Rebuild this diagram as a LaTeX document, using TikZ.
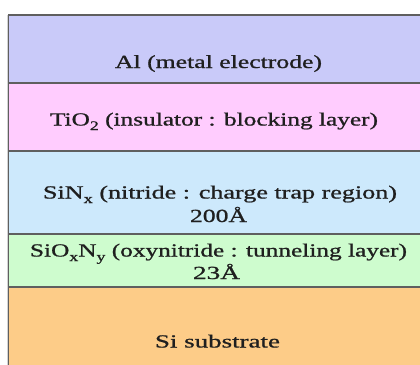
\documentclass[tikz,border=0pt]{standalone}
\usepackage{fontspec}
\setmainfont{Liberation Serif}
\newfontfamily\lblfont[FakeBold=0.8]{Liberation Serif}
\definecolor{alc}{RGB}{201,202,249}
\definecolor{tic}{RGB}{255,204,254}
\definecolor{sinc}{RGB}{205,233,252}
\definecolor{sionc}{RGB}{206,252,206}
\definecolor{sic}{RGB}{253,204,136}
\definecolor{edgec}{RGB}{95,95,95}
\tikzset{
  layer/.style={draw=edgec, line width=1.3pt, minimum width=440pt, anchor=north west, inner sep=0pt, outer sep=0pt},
  lbl/.style={font=\lblfont\fontsize{18.5}{24}\selectfont, anchor=base, inner sep=0pt, text=black!88}
}
\newcommand{\wlbl}[2]{\resizebox{#1}{\height}{#2}}
\newcommand{\sbs}[1]{\raisebox{-4.5pt}{\fontsize{13}{13}\selectfont #1}}
\begin{document}
\begin{tikzpicture}[x=1pt,y=1pt]
\useasboundingbox (0,0) rectangle (420,-364);
\fill[white] (0,0) rectangle (420,-364);
\clip (0,0) rectangle (420,-364);
\draw[gray!35, line width=1pt] (7,-15) -- (7,-370);
\node[layer, fill=sic,   minimum height=90pt] (si)   at (8.5,-287) {};
\node[layer, fill=sionc, minimum height=53pt] (sion) at (8.5,-234) {};
\node[layer, fill=sinc,  minimum height=83pt] (sin)  at (8.5,-151) {};
\node[layer, fill=tic,   minimum height=68pt] (ti)   at (8.5,-83) {};
\node[layer, fill=alc,   minimum height=68pt] (al)   at (8.5,-15) {};
\node[lbl] (altxt)   at (218.5,-68)  {\wlbl{207pt}{Al (metal electrode)}};
\node[lbl] (titxt)   at (214,-125.5) {\wlbl{328pt}{TiO\sbs{2} (insulator : blocking layer)}};
\node[lbl] (sintxt)  at (220,-198.5) {\wlbl{354pt}{SiN\sbs{x} (nitride : charge trap region)}};
\node[lbl] (sinth)   at (218.5,-222) {\wlbl{57pt}{200Å}};
\node[lbl] (siontxt) at (218.5,-256.5) {\wlbl{377pt}{SiO\sbs{x}N\sbs{y} (oxynitride : tunneling layer)}};
\node[lbl] (sionth)  at (216.5,-279) {\wlbl{47pt}{23Å}};
\node[lbl] (sitxt)   at (217.5,-347.5) {\wlbl{125pt}{Si substrate}};
\end{tikzpicture}
\end{document}
